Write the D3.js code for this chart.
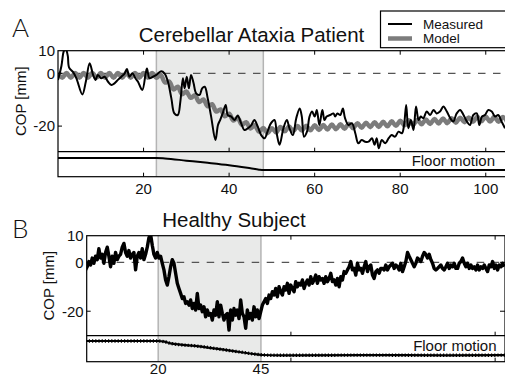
<!DOCTYPE html>
<html><head><meta charset="utf-8">
<script src="https://cdn.jsdelivr.net/npm/d3@7"></script>
<style>
html,body{margin:0;padding:0;background:#fff;}
svg{display:block;}
text{font-family:"Liberation Sans",Arial,sans-serif;fill:#111;}
</style></head>
<body>
<svg id="c" width="505" height="376"></svg>
<script>
// ---------- DATA ----------
const panelLetters = ["A", "B"];
const titles = ["Cerebellar Ataxia Patient", "Healthy Subject"];
const legendLabels = ["Measured", "Model"];
const yTickValues = [-20, 0, 10];
const aXTicks = [20, 40, 60, 80, 100];
const bXTickLabels = [20, 45];
const bXTickMarks = [52.3, 102];
const aShade = [23, 48];
const bShade = [20, 45];

// Panel A measured COP (time s, mm)
const aTime = [0,0.8,1.3,1.7,2.0,2.3,2.6,3.5,4.3,5.7,6.5,7.4,8.2,8.8,9.3,10.1,10.9,11.7,12.5,13.2,14,14.8,15.6,16.1,16.7,17.4,18.1,18.7,19.7,20.5,20.8,21.4,22.2,23,24.1,24.9,25.7,26.5,27.2,28,28.6,29.2,29.6,30.1,30.6,31.1,31.7,32.3,33.1,33.7,34.3,35,35.8,36.8,37.4,37.9,38.5,39.2,39.7,40.5,41.3,42,42.8,43.6,44.4,45.2,45.9,46.7,47.5,48.3,49.1,49.8,50.6,51.2,51.8,52.7,53.5,54.1,54.9,55.7,56.5,57,57.5,58.2,58.8,59.4,60,60.5,61.1,61.8,62.3,62.8,63.6,64.4,64.8,65.3,66,66.6,67.1,67.9,68.7,69.5,70.2,71,71.8,72.6,73.4,74,74.5,75,75.7,76.5,77.3,78,78.8,79.6,80.4,80.9,81.4,81.9,82.5,83.1,83.7,84.3,84.8,85.4,86.2,87,87.8,88.5,89.3,90.1,90.9,91.7,92.4,93.2,94,94.8,95.6,96.3,97.1,97.9,98.5,99.1,99.8,100.6,101.4,102.2,102.9,103.7,104.5];
const aMeasured = [-2.5,3.2,9.5,11,10,7.6,2.5,0.6,-1.9,-8,-3.2,4.4,-0.6,-2.5,-0.6,-1.9,-1.3,-3.2,-4.4,-3.8,-2.5,-1.3,0,1.9,-1.3,0,-1.9,-3.2,-6.3,0,2.1,-1.9,-1.3,-0.6,0.9,0,-3.2,-9.5,-15.2,-15.8,-10.7,-1.9,-5.7,-1.3,-5.7,-0.6,-3.8,-7.6,-8.2,-5.7,-5.1,-9.5,-16.4,-25.3,-19.6,-17.7,-15.2,-12,-15.8,-16.4,-17.7,-16,-18.9,-21.5,-20.8,-19.6,-17.7,-20.2,-23.4,-24.6,-21.5,-18.9,-17.7,-23.4,-27.1,-20.8,-17.7,-20.8,-23.4,-17,-13.3,-16.4,-24,-22.1,-16.4,-14.5,-16.4,-13.9,-19.6,-13.9,-17.7,-16.4,-15.8,-15.2,-16.4,-15.2,-15.8,-13.3,-17,-19.6,-18.9,-22.7,-26.5,-25.3,-25.9,-25.9,-24.6,-27.1,-24.6,-28.4,-25.3,-26.5,-24.6,-23.4,-24,-22.1,-22.7,-19.6,-12,-20.8,-17.7,-21.5,-12.6,-17.7,-16.4,-17,-14.5,-15.8,-13.9,-15.2,-14.5,-12.6,-14.5,-17,-18.3,-15.2,-13.9,-15.8,-18.3,-19.6,-15.8,-15.2,-19.6,-16.4,-15.8,-13.9,-14.5,-16.4,-15.8,-18.3,-20.8];

// Panel A model COP, one value per second (0..105)
const aModel = [0.1,-1.7,0.1,-1.7,0.1,-1.7,0.1,-1.7,0.1,-1.7,0.1,-1.7,0.1,-1.7,0.1,-1.7,0.1,-1.7,0.1,-1.7,0.1,-1.7,0.1,-1.7,
  -0.6,-3.5,-3.1,-6.1,-5.1,-7.9,-6.9,-9.3,-8.3,-10.9,-9.9,-12.5,-11.7,-14.5,-13.7,-16.3,-15.3,-17.9,-16.9,-19.5,-18.5,-20.9,-19.7,-22.1,-20.7,-22.7,-20.8,-22.4,-20.3,
  -22.0,-20.2,-21.9,-20.0,-21.7,-19.9,-21.6,-19.7,-21.5,-19.6,-21.3,-19.4,-21.2,-19.3,
  -21.0,-19.1,-20.8,-18.9,-20.6,-18.7,-20.4,-18.5,-20.3,-18.4,-20.1,-18.2,-19.9,-18.0,-19.7,-17.8,-19.5,
  -17.6,-19.3,-17.5,-19.2,-17.3,-19.0,-17.1,-18.9,-17.0,-18.7,-16.8,-18.5,-16.7,-18.4,-16.5,-18.2,
  -16.4,-18.3,-16.5,-18.4,-16.6,-18.4];
const aModelTime = d3.range(aModel.length);

// Floor motion (normalised displacement)
const aFloorTime = [0, 23, 25, 30, 35, 40, 45, 47, 48, 60, 80, 106];
const aFloor = [0, 0, -0.04, -0.22, -0.4, -0.6, -0.86, -0.97, -1, -1.01, -1, -1];
const bFloorTime = [0, 20, 21.5, 23, 30, 38, 44, 45.5, 50, 70, 90, 105];
const bFloor = [0, 0, -0.05, -0.17, -0.38, -0.71, -0.95, -1, -1.02, -1.01, -1.02, -1.01];

// Panel B measured COP, sampled from t0 with a fixed sample step
const bT0 = 1.91, bDt = 0.406;
const bMeasured = [-5.9,-3.1,-1.8,0.3,-1.1,1.6,-0.4,2.3,1.0,5.1,1.6,3.0,-0.4,3.7,5.7,2.3,-1.8,2.3,-0.4,3.7,1.0,2.3,3.0,5.7,7.1,3.7,2.3,4.4,1.6,3.0,3.7,-3.1,2.3,3.7,1.6,5.1,1.0,3.0,5.7,9.2,10.5,6.4,3.0,1.6,3.7,1.6,2.3,-0.4,-3.1,-7.2,-9.3,-5.9,-1.8,1.0,-0.4,-4.5,-8.6,-10.7,-12.7,-14.8,-14.1,-16.8,-16.1,-17.5,-15.4,-18.9,-16.8,-19.5,-12.7,-18.9,-17.5,-20.2,-18.2,-22.3,-19.5,-21.6,-20.9,-23.6,-19.5,-21.6,-16.1,-22.3,-17.5,-20.9,-23.6,-21.6,-20.9,-27.7,-19.5,-23.6,-18.9,-21.6,-19.5,-23.0,-15.4,-20.9,-22.3,-27.0,-19.5,-23.0,-20.9,-23.6,-18.2,-22.3,-19.5,-23.0,-20.2,-17.5,-16.1,-14.8,-16.8,-13.4,-14.8,-12.0,-13.4,-10.7,-14.1,-10.0,-12.0,-13.4,-10.0,-11.3,-8.6,-12.7,-9.3,-10.7,-12.0,-7.9,-10.0,-8.6,-9.3,-7.2,-10.7,-8.6,-7.2,-9.3,-5.9,-8.6,-7.2,-5.2,-8.6,-5.9,-7.2,-6.6,-8.6,-5.9,-7.9,-6.6,-4.5,-7.9,-7.2,-9.3,-6.6,-10.0,-5.9,-7.2,-3.8,-4.5,-3.1,-1.8,0.3,-3.1,-2.5,-5.2,-0.4,-3.1,-2.5,-4.5,-1.8,0.3,-3.8,-1.8,-1.1,-5.2,-6.6,-3.8,-3.1,-4.5,-2.5,-2.5,-3.1,-1.1,-3.1,-1.8,-1.1,-0.4,-2.5,-1.1,-1.8,-3.1,-0.4,-3.8,-1.8,0.3,3.7,2.3,1.0,-0.4,-1.8,-0.4,1.6,1.0,0.3,2.3,3.7,3.0,1.6,3.0,1.0,-0.4,-2.5,-3.1,-2.5,-1.8,-1.1,-2.5,-3.1,-1.8,-0.4,-2.5,-1.1,-1.8,-0.4,-2.5,-2.5,-0.4,0.3,1.6,-0.4,-1.8,-0.4,-2.5,-1.1,-2.5,-1.8,-3.1,-1.1,-3.1,-1.8,-2.5,-1.1,-2.5,-3.8,-1.1,-1.8,0.3,-2.5,-1.1,-3.1,-1.1,-1.8,-0.4,-1.8];
const bTime = bMeasured.map((_, i) => +(bT0 + i * bDt).toFixed(3));

// ---------- DRAW ----------
const svg = d3.select("#c");

function panel(cfg) {
  const g = svg.append("g");
  const x = d3.scaleLinear().domain(cfg.xDomain).range([cfg.left, cfg.right]);
  const y = d3.scaleLinear().domain([cfg.yMin, 0, 10]).range([cfg.sep, cfg.y0, cfg.top]);
  const yf = d3.scaleLinear().domain([-1, 0]).range(cfg.floorRange);
  const id = "clip" + cfg.name;
  svg.append("clipPath").attr("id", id).append("rect")
    .attr("x", cfg.left).attr("y", cfg.top).attr("width", cfg.right - cfg.left).attr("height", cfg.sep - cfg.top);
  const idf = "clipf" + cfg.name;
  svg.append("clipPath").attr("id", idf).append("rect")
    .attr("x", cfg.left).attr("y", cfg.sep).attr("width", cfg.right - cfg.left).attr("height", cfg.bottom - cfg.sep);

  // shading
  g.append("rect").attr("x", x(cfg.shade[0])).attr("y", cfg.top)
    .attr("width", x(cfg.shade[1]) - x(cfg.shade[0])).attr("height", cfg.bottom - cfg.top)
    .attr("fill", "#e9eae9");
  cfg.shade.forEach(s => g.append("line").attr("x1", x(s)).attr("x2", x(s))
    .attr("y1", cfg.top).attr("y2", cfg.bottom).attr("stroke", "#b4b4b4").attr("stroke-width", 1.5));

  // zero dashed
  g.append("line").attr("x1", cfg.left).attr("x2", cfg.right).attr("y1", y(0)).attr("y2", y(0))
    .attr("stroke", "#555").attr("stroke-width", 1.3).attr("stroke-dasharray", "7.5,7.5");

  // model
  if (cfg.model) {
    g.append("path").attr("clip-path", `url(#${id})`)
      .datum(cfg.model.t.map((t, i) => [t, cfg.model.v[i]]))
      .attr("d", d3.line().x(d => x(d[0])).y(d => y(d[1])).curve(d3.curveCatmullRom))
      .attr("fill", "none").attr("stroke", "#7c7c7c").attr("stroke-width", 4.5);
  }
  // measured
  g.append("path").attr("clip-path", `url(#${id})`)
    .datum(cfg.meas.t.map((t, i) => [t, cfg.meas.v[i]]))
    .attr("d", d3.line().x(d => x(d[0])).y(d => y(d[1])).curve(cfg.measCurve))
    .attr("fill", "none").attr("stroke", "#000").attr("stroke-width", cfg.measWidth)
    .attr("stroke-linejoin", "round");

  // floor motion
  const floorD = d3.line().x(d => x(d[0])).y(d => yf(d[1])).curve(d3.curveMonotoneX);
  const floorPts = cfg.floor.t.map((t, i) => [t, cfg.floor.v[i]]);
  g.append("path").attr("clip-path", `url(#${idf})`).datum(floorPts)
    .attr("d", floorD).attr("fill", "none").attr("stroke", "#000").attr("stroke-width", cfg.floorWidth);
  if (cfg.beaded) {
    g.append("path").attr("clip-path", `url(#${idf})`).datum(floorPts)
      .attr("d", floorD).attr("fill", "none").attr("stroke", "#000").attr("stroke-width", cfg.floorWidth + 1.2)
      .attr("stroke-dasharray", "1.2,2");
  }
  g.append("text").attr("x", cfg.floorLabelX).attr("y", cfg.floorLabelY)
    .attr("text-anchor", "end").attr("font-size", 15).text("Floor motion");

  // frame
  const fr = g.append("g").attr("fill", "none").attr("stroke", "#000").attr("stroke-width", 1.2);
  fr.append("rect").attr("x", cfg.left).attr("y", cfg.top).attr("width", cfg.right - cfg.left).attr("height", cfg.bottom - cfg.top);
  fr.append("line").attr("x1", cfg.left).attr("x2", cfg.right).attr("y1", cfg.sep).attr("y2", cfg.sep);

  // x tick marks (inward)
  cfg.xTickMarks.forEach(v => {
    const px = x(v);
    [[cfg.top, cfg.top + 4], [cfg.sep - 4, cfg.sep], [cfg.bottom - 4, cfg.bottom]].forEach(([a, b]) =>
      fr.append("line").attr("x1", px).attr("x2", px).attr("y1", a).attr("y2", b).attr("stroke-width", 1));
  });
  // y tick marks
  [-20, 0].forEach(v => {
    fr.append("line").attr("x1", cfg.left).attr("x2", cfg.left + 4).attr("y1", y(v)).attr("y2", y(v)).attr("stroke-width", 1);
    fr.append("line").attr("x1", cfg.right - 5).attr("x2", cfg.right).attr("y1", y(v)).attr("y2", y(v)).attr("stroke-width", 1);
  });

  // labels
  yTickValues.forEach(v => g.append("text").attr("x", cfg.left - 3).attr("y", y(v))
    .attr("dy", "0.36em").attr("text-anchor", "end").attr("font-size", 15).text(v));
  cfg.xLabels.forEach(v => g.append("text").attr("x", x(v)).attr("y", cfg.xLabelY)
    .attr("text-anchor", "middle").attr("font-size", 15).text(v));
  g.append("text").attr("transform", `translate(${cfg.ylabX},${(cfg.top + cfg.sep) / 2}) rotate(-90)`)
    .attr("text-anchor", "middle").attr("dy", "0.36em").attr("font-size", 15).text("COP [mm]");
  g.append("text").attr("x", cfg.titleX).attr("y", cfg.titleY).attr("text-anchor", "middle")
    .attr("font-size", 20.5).text(cfg.title);
  g.append("text").attr("x", 12).attr("y", cfg.letterY).attr("font-size", 26)
    .style("font-family", "Lato, 'Open Sans', sans-serif").style("font-weight", 300).text(cfg.letter);
}

panel({
  name: "A", letter: panelLetters[0], title: titles[0],
  left: 58, right: 511, top: 50.7, sep: 151.7, bottom: 176.7, y0: 73.3, yMin: -29.7,
  xDomain: [0, 105.9], shade: aShade, xTickMarks: aXTicks, xLabels: aXTicks, xLabelY: 194,
  floorRange: [170, 158], floorWidth: 2, floorLabelX: 495, floorLabelY: 166,
  model: { t: aModelTime, v: aModel },
  meas: { t: aTime, v: aMeasured }, measCurve: d3.curveCatmullRom, measWidth: 2,
  floor: { t: aFloorTime, v: aFloor },
  ylabX: 21, titleX: 251.5, titleY: 41.5, letterY: 36.7
});
panel({
  name: "B", letter: panelLetters[1], title: titles[1],
  left: 86.7, right: 505, top: 235.7, sep: 335.7, bottom: 361.7, y0: 262.3, yMin: -30,
  xDomain: [2.6, 104.4], shade: bShade, xTickMarks: bXTickMarks, xLabels: bXTickLabels, xLabelY: 373.5,
  floorRange: [355, 341], floorWidth: 2.2, beaded: true, floorLabelX: 496.5, floorLabelY: 350.5,
  model: null,
  meas: { t: bTime, v: bMeasured }, measCurve: d3.curveLinear, measWidth: 3.4,
  floor: { t: bFloorTime, v: bFloor },
  ylabX: 49, titleX: 234, titleY: 226.7, letterY: 237.7
});

// legend
const lg = svg.append("g");
lg.append("rect").attr("x", 380.5).attr("y", 11).attr("width", 140).attr("height", 36.7)
  .attr("fill", "#fff").attr("stroke", "#000").attr("stroke-width", 1.2);
const legendColors = ["#000", "#7c7c7c"], legendWidths = [2, 4.5], legendY = [24, 38.5];
legendLabels.forEach((lab, i) => {
  lg.append("line").attr("x1", 388).attr("x2", 412).attr("y1", legendY[i]).attr("y2", legendY[i])
    .attr("stroke", legendColors[i]).attr("stroke-width", legendWidths[i]);
  lg.append("text").attr("x", 423).attr("y", legendY[i]).attr("dy", "0.36em").attr("font-size", 13.5).text(lab);
});
</script>
</body></html>
